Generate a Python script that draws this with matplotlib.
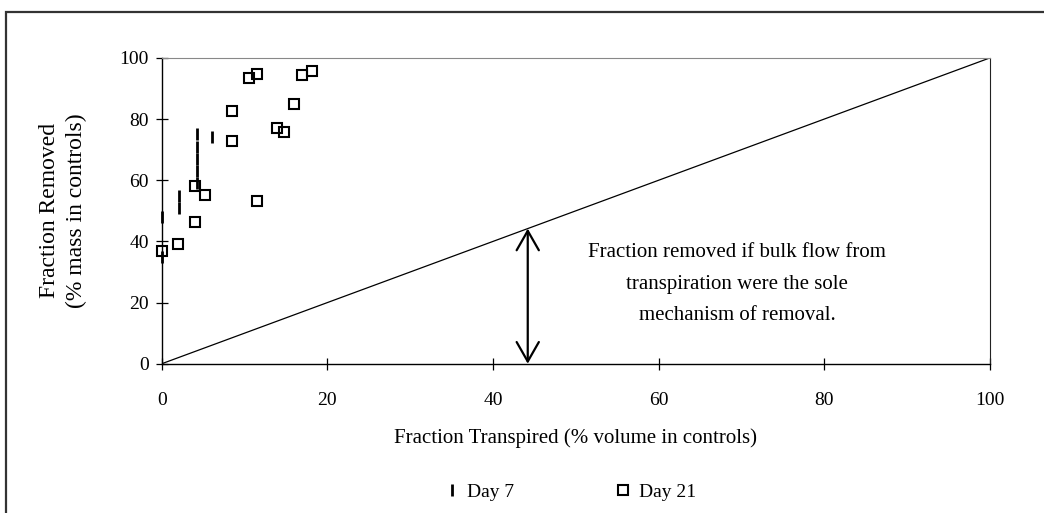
import matplotlib.pyplot as plt
from matplotlib.patches import Rectangle

plt.rcParams['font.family'] = ['Liberation Serif', 'DejaVu Serif']

day7_x = [0, 0, 2.1, 2.1, 4.2, 4.2, 4.2, 4.2, 4.2, 6.1]
day7_y = [48, 35, 55, 51, 75, 71, 67, 63, 59, 74]

day21_x = [0, 1.9, 4.0, 4.0, 5.2, 8.5, 8.5, 10.5, 11.5, 11.5, 13.9, 14.8, 16.0, 16.9, 18.1]
day21_y = [36.9, 39.3, 58.2, 46.2, 55.2, 82.8, 72.9, 93.5, 94.8, 53.3, 77.2, 75.9, 84.9, 94.3, 95.9]

ref_x = [0, 100]
ref_y = [0, 100]
arrow_x = 44.2

fig = plt.figure(figsize=(10.44, 5.13), dpi=100)
ax = fig.add_axes([0.155, 0.291, 0.793, 0.596])

# outer chart border (runs off the right and bottom edges)
fig.patches.append(Rectangle((6 / 1044, -0.1), 1.1, 1.1 - 12 / 513, transform=fig.transFigure,
                             fill=False, edgecolor='#333333', linewidth=1.6))

ax.plot(ref_x, ref_y, color='black', linewidth=0.9)
ax.plot(day7_x, day7_y, linestyle='none', marker='|', markersize=8, markeredgewidth=2,
        color='black', label='Day 7', clip_on=False)
ax.plot(day21_x, day21_y, linestyle='none', marker='s', markersize=7, markeredgewidth=1.5,
        markerfacecolor='none', markeredgecolor='black', label='Day 21', clip_on=False)

ax.annotate('', xy=(arrow_x, 0), xytext=(arrow_x, arrow_x),
            arrowprops=dict(arrowstyle='<->,head_length=1.4,head_width=0.8', mutation_scale=10,
                            color='black', lw=1.6, shrinkA=0, shrinkB=0))
ax.text(69.5, 26, 'Fraction removed if bulk flow from\ntranspiration were the sole\nmechanism of removal.',
        ha='center', va='center', fontsize=15, linespacing=1.9)

ax.set_xlim(0, 100)
ax.set_ylim(0, 100)
ax.set_xticks([0, 20, 40, 60, 80, 100])
ax.set_yticks([0, 20, 40, 60, 80, 100])
ax.tick_params(direction='inout', length=9, width=0.9, labelsize=14)
ax.tick_params(axis='x', pad=16)
ax.tick_params(axis='y', pad=5)
for s in ['left', 'bottom']:
    ax.spines[s].set_linewidth(1.0)
ax.spines['top'].set_color('#888888')
ax.spines['right'].set_color('#222222')

ax.set_xlabel('Fraction Transpired (% volume in controls)', fontsize=15, labelpad=14)
ax.set_ylabel('Fraction Removed\n(% mass in controls)', fontsize=17, labelpad=23, linespacing=1.35)

ax.legend(loc='upper center', bbox_to_anchor=(0.494, -0.335), ncol=2, frameon=False,
          fontsize=14, handlelength=0.6, handletextpad=0.5, columnspacing=5.3)

fig.savefig('out.png', dpi=100)
